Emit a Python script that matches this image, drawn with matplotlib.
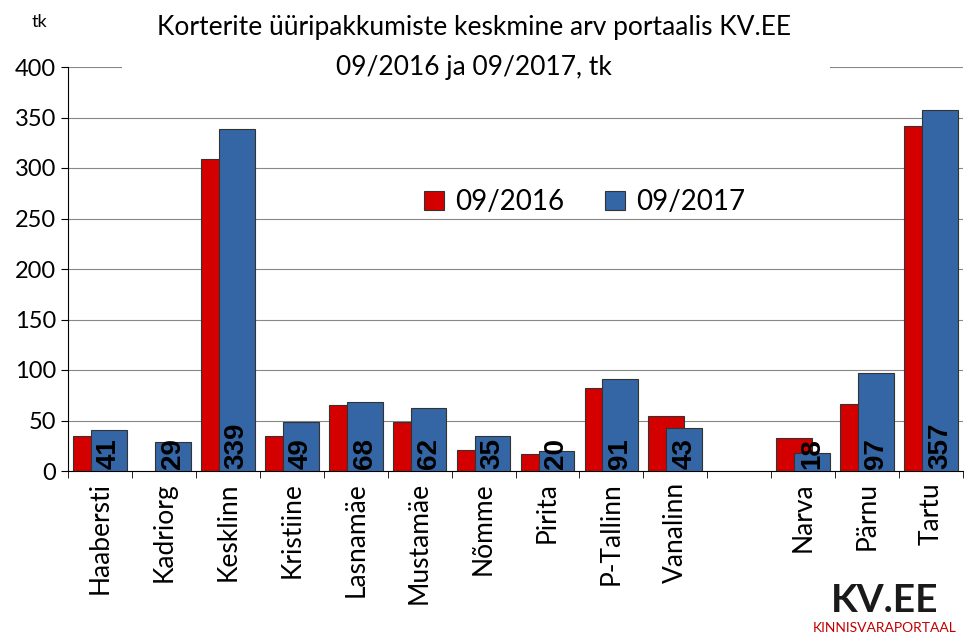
import matplotlib
matplotlib.use("Agg")
import matplotlib.pyplot as plt
import matplotlib.patches as mpatches
import numpy as np

categories = ["Haabersti","Kadriorg","Kesklinn","Kristiine","Lasnamäe","Mustamäe","Nõmme","Pirita","P-Tallinn","Vanalinn","","Narva","Pärnu","Tartu"]
v2016 = [35,0,309,35,65,49,21,17,82,54,0,33,66,342]
v2017 = [41,29,339,49,68,62,35,20,91,43,0,18,97,357]
labels2017 = ["41","29","339","49","68","62","35","20","91","43","","18","97","357"]

plt.rcParams["font.family"] = "Lato"
fig = plt.figure(figsize=(9.77,6.38), dpi=100)
ax = fig.add_axes([68/977, 1-471/638, 895/977, 404/638])
x = np.arange(len(categories))
w = 0.56
m16 = [v > 0 for v in v2016]
m17 = [v > 0 for v in v2017]
ax.bar(x[m16]-0.14, np.array(v2016)[m16], w, color="#d40000", edgecolor="#333333", linewidth=0.8, label="09/2016", zorder=2)
ax.bar(x[m17]+0.14, np.array(v2017)[m17], w, color="#3465a4", edgecolor="#333333", linewidth=0.8, label="09/2017", zorder=3)
for xi, v, t in zip(x, v2017, labels2017):
    if t:
        ax.text(xi+0.14, 2, t, rotation=90, ha="center", va="bottom", fontsize=20, fontweight="bold",
                family="Liberation Sans", zorder=4)
ax.set_xlim(-0.5, len(categories)-0.5)
ax.set_ylim(0, 400)
ax.set_yticks(range(0,401,50))
ax.tick_params(axis="y", labelsize=17, length=5)
ax.set_xticks(np.arange(len(categories)+1)-0.5, minor=True)
ax.set_xticks(x)
ax.set_xticklabels(categories, rotation=90, fontsize=19)
ax.tick_params(axis="x", which="major", length=0, pad=8)
ax.tick_params(axis="x", which="minor", length=5)
ax.grid(axis="y", color="#888888", linewidth=0.8, zorder=0)
for s in ["top","right"]:
    ax.spines[s].set_visible(False)
ax.legend(loc="upper left", bbox_to_anchor=(0.37, 0.76), ncol=2, frameon=False, fontsize=20,
          handlelength=0.7, handleheight=0.7, columnspacing=1.5, handletextpad=0.4)
fig.patches.append(mpatches.Rectangle((122/977, 1-90/638), (830-122)/977, 90/638, transform=fig.transFigure,
                                      facecolor="white", edgecolor="none", zorder=5))
fig.text(0.04, 1-22/638, "tk", fontsize=13, ha="center", va="center", zorder=6)
fig.text(0.485, 1-28/638, "Korterite üüripakkumiste keskmine arv portaalis KV.EE", fontsize=19, ha="center", va="center", zorder=6)
fig.text(0.485, 1-68/638, "09/2016 ja 09/2017, tk", fontsize=19, ha="center", va="center", zorder=6)
fig.text(0.905, 1-612/638, "KV.EE", fontsize=28, fontweight="bold", color="#1a1a1a", ha="center")
fig.text(0.905, 1-632/638, "KINNISVARAPORTAAL", fontsize=10, color="#c00000", ha="center")
fig.savefig("out.png", dpi=100)
